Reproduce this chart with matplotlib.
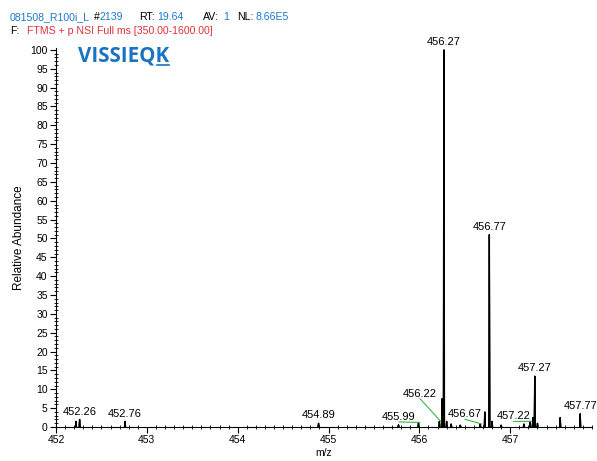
import matplotlib
matplotlib.use("Agg")
import matplotlib.pyplot as plt
from matplotlib.ticker import MultipleLocator

plt.rcParams['font.family'] = ['Liberation Sans', 'DejaVu Sans']

# ---- data ----
peak_mz = [452.22, 452.26, 452.76, 454.89, 455.77, 455.99, 456.22, 456.25, 456.27,
           456.30, 456.35, 456.45, 456.67, 456.72, 456.77, 456.80, 456.90, 457.15,
           457.22, 457.25, 457.27, 457.30, 457.55, 457.77]
peak_int = [1.5, 2.0, 1.5, 1.0, 0.6, 1.2, 1.5, 7.5, 100.0,
            1.5, 0.8, 0.5, 0.8, 4.0, 51.0, 1.5, 0.5, 0.8,
            1.5, 2.5, 13.5, 1.0, 2.5, 3.5]

label_text = ["452.26", "452.76", "454.89", "455.99", "456.22", "456.27",
              "456.67", "456.77", "457.22", "457.27", "457.77"]
label_mz = [452.26, 452.76, 454.89, 455.99, 456.22, 456.27,
            456.67, 456.77, 457.22, 457.27, 457.77]
label_int = [2.0, 1.5, 1.0, 1.2, 1.5, 100.0, 0.8, 51.0, 1.5, 13.5, 3.5]
# text offsets in points for labels drawn with leader lines; None = directly above
label_offset = [None, None, None, (-15, 4), (-15, 20), None,
                (-12, 7), None, (-13, 3.5), None, None]

header1 = [("081508_R100i_L", 'blue'), ("#", 'black'), ("2139", 'blue'), ("RT:", 'black'),
           ("19.64", 'blue'), ("AV:", 'black'), ("1", 'blue'), ("NL:", 'black'), ("8.66E5", 'blue')]
header1_x = [10, 94, 99, 139, 157, 203, 223, 237, 255]
header2 = [("F:", 'black'), ("FTMS + p NSI Full ms [350.00-1600.00]", 'red')]
header2_x = [10, 27]

# ---- figure ----
fig = plt.figure(figsize=(5.97, 4.61), dpi=100)
ax = fig.add_axes([56/597, 34/461, 536/597, 379/461])

w = 0.006
for mz, h in zip(peak_mz, peak_int):
    ax.fill([mz - w, mz, mz + w], [0, h, 0], color='black', lw=0.8)
    ax.plot([mz - w, mz, mz + w], [0, h, 0], color='black', lw=1.0)

for txt, mz, h, off in zip(label_text, label_mz, label_int, label_offset):
    if off is None:
        ax.annotate(txt, (mz, h), xytext=(0, 2), textcoords='offset points',
                    ha='center', va='bottom', fontsize=8)
    else:
        ax.annotate(txt, (mz + 0.015, h), xytext=off, textcoords='offset points',
                    ha='center', va='center', fontsize=8,
                    arrowprops=dict(arrowstyle='-', color='#3cb44b', lw=0.8,
                                    shrinkA=0, shrinkB=0, patchA=None,
                                    relpos=(0.5, 0.0)))

ax.set_xlim(452, 457.9)
ax.set_ylim(0, 100.5)
ax.spines['top'].set_visible(False)
ax.spines['right'].set_visible(False)
ax.xaxis.set_major_locator(MultipleLocator(1))
ax.xaxis.set_minor_locator(MultipleLocator(0.1))
ax.yaxis.set_major_locator(MultipleLocator(5))
ax.yaxis.set_minor_locator(MultipleLocator(1))
ax.tick_params(axis='both', which='major', direction='out', length=4, width=0.8, labelsize=7.5, pad=2)
ax.tick_params(axis='both', which='minor', direction='inout', length=3, width=0.6)
ax.set_xlabel('m/z', fontsize=7.5, labelpad=2)
ax.set_ylabel('Relative Abundance', fontsize=8.5, labelpad=4)

# header
cmap = {'blue': '#1f78c8', 'red': '#e0303a', 'black': 'black'}
for parts, xs, ypx in ((header1, header1_x, 17), (header2, header2_x, 31)):
    for (s, c), xp in zip(parts, xs):
        fig.text(xp / 597, 1 - ypx / 461, s, color=cmap[c], fontsize=7.6,
                 va='center', ha='left')

# peptide title with underlined K
renderer = fig.canvas.get_renderer()
title_color = '#1a73c0'
tq = fig.text(78 / 597, 1 - 56 / 461, "VISSIEQ", fontsize=14.8,
              fontweight='bold', va='center', ha='left', family='Open Sans')
bb_q = tq.get_window_extent(renderer=renderer)
tq.remove()
t1 = fig.text(78 / 597, 1 - 56 / 461, "VISSIEQK", color=title_color, fontsize=14.8,
              fontweight='bold', va='center', ha='left', family='Open Sans')
bb_full = t1.get_window_extent(renderer=renderer)
x0 = (bb_q.x1 + 1) / fig.bbox.width
x1 = bb_full.x1 / fig.bbox.width
fig.lines.append(plt.Line2D([x0, x1], [1 - 65 / 461, 1 - 65 / 461], color=title_color,
                            lw=1.2, transform=fig.transFigure))

fig.savefig('out.png', dpi=100)
